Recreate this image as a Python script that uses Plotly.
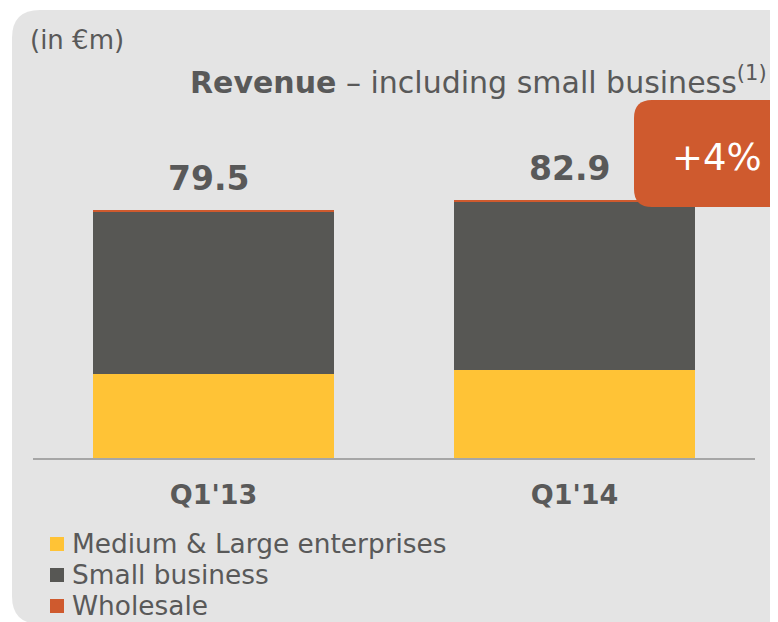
import plotly.graph_objects as go

# ---- data ----
categories = ["Q1'13", "Q1'14"]
medium_large = [27.0, 28.1]
small_business = [52.1, 54.1]
wholesale = [0.4, 0.7]
totals = [79.5, 82.9]
total_labels = ["79.5", "82.9"]
series_names = ["Medium & Large enterprises", "Small business", "Wholesale"]
growth_label = "+4%"

# ---- style ----
W, H = 778, 622
OFF = 8  # page body margin offset
ML, MR, MT, MB = 33 - OFF, 23 + OFF, 32, 164 + OFF
FONT = "DejaVu Sans"
TXT = "#595959"
BG = "#e4e4e4"
YELLOW = "#ffc336"
DARK = "#575754"
ORANGE = "#cf5a2e"
SERIES_COLORS = [YELLOW, DARK, ORANGE]

PW = W - ML - MR
PH = H - MT - MB


def px(x):
    return (x - OFF - ML) / PW


def py(y):
    return (H - MB - (y - OFF)) / PH


def rounded_rect(x0, y0, x1, y1, r):
    X0, X1 = px(x0), px(x1)
    Y0, Y1 = py(y0), py(y1)
    rx, ry = r / PW, r / PH
    return (f"M{X0 + rx},{Y0} L{X1 - rx},{Y0} Q{X1},{Y0} {X1},{Y0 - ry} "
            f"L{X1},{Y1 + ry} Q{X1},{Y1} {X1 - rx},{Y1} L{X0 + rx},{Y1} "
            f"Q{X0},{Y1} {X0},{Y1 + ry} L{X0},{Y0 - ry} Q{X0},{Y0} {X0 + rx},{Y0} Z")


fig = go.Figure()
for name, vals, col in zip(series_names, [medium_large, small_business, wholesale],
                           SERIES_COLORS):
    fig.add_trace(go.Bar(x=categories, y=vals, name=name, marker_color=col,
                         marker_line_width=0, width=0.665))

fig.update_layout(
    width=W, height=H,
    margin=dict(l=ML, r=MR, t=MT, b=MB, autoexpand=False),
    paper_bgcolor="white", plot_bgcolor="rgba(0,0,0,0)",
    barmode="stack",
    font=dict(family=FONT, color=TXT),
    showlegend=False,
    xaxis=dict(range=[-0.5, 1.5], showline=True, linecolor="#a6a6a6", linewidth=2,
               ticks="", showgrid=False, zeroline=False,
               tickfont=dict(size=27, color=TXT, weight="bold"),
               ticklabelstandoff=12),
    yaxis=dict(range=[0, PH / 3.115], visible=False, showgrid=False, zeroline=False),
)

# background panel
fig.add_shape(type="path", xref="paper", yref="paper",
              path=rounded_rect(12, 10, 810, 624, 28),
              fillcolor=BG, line_width=0, layer="below")

# growth badge
fig.add_shape(type="path", xref="paper", yref="paper",
              path=rounded_rect(634, 100, 810, 207, 18),
              fillcolor=ORANGE, line_width=0, layer="above")
fig.add_annotation(xref="paper", yref="paper", x=px(717), y=py(157),
                   text=growth_label, showarrow=False,
                   font=dict(size=37, color="white", family=FONT),
                   xanchor="center", yanchor="middle")

# total labels
for c, t, lab in zip(categories, totals, total_labels):
    fig.add_annotation(x=c, y=t, text=f"<b>{lab}</b>", showarrow=False,
                       yanchor="bottom", yshift=10, xshift=-5,
                       font=dict(size=33, color=TXT, family=FONT))

# title
fig.add_annotation(xref="paper", yref="paper", x=px(769), y=py(80),
                   xanchor="right", yanchor="middle", showarrow=False,
                   text="<b>Revenue</b> – including small business<sup>(1)</sup>",
                   font=dict(size=30, color=TXT, family=FONT))
fig.add_annotation(xref="paper", yref="paper", x=px(28), y=py(40),
                   xanchor="left", yanchor="middle", showarrow=False,
                   text="(in €m)", font=dict(size=26, color=TXT, family=FONT))

# legend (manual, compact rows)
row_y = [543, 574, 605]
for name, col, yy in zip(series_names, SERIES_COLORS, row_y):
    fig.add_shape(type="rect", xref="paper", yref="paper",
                  x0=px(50), x1=px(64), y0=py(yy + 8), y1=py(yy - 6),
                  fillcolor=col, line_width=0)
    fig.add_annotation(xref="paper", yref="paper", x=px(70), y=py(yy),
                       xanchor="left", yanchor="middle", showarrow=False,
                       text=name, font=dict(size=26.4, color=TXT, family=FONT))

fig.write_html("out.html")
